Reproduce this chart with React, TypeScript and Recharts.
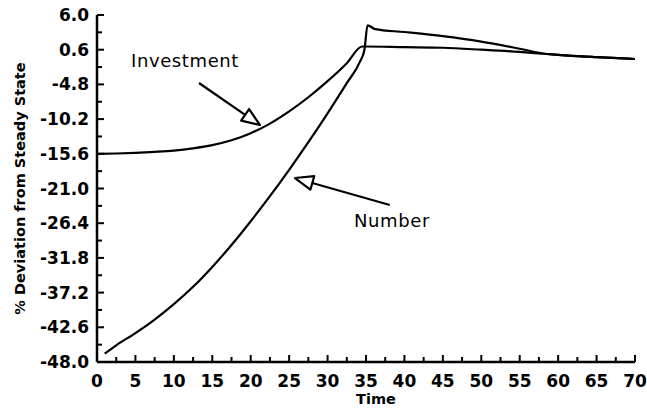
import React from 'react';
import { LineChart, Line, XAxis, YAxis, ReferenceLine, ReferenceDot, Label } from 'recharts';

// ---- data ----
const investmentTime = [0, 2.5, 5, 7.5, 10, 12.5, 15, 17.5, 20, 22.5, 25, 27.5, 30, 32.5, 34.5, 35, 40, 45, 50, 55, 58.5, 60, 65, 70];
const investmentValues = [-15.6, -15.55, -15.45, -15.3, -15.1, -14.75, -14.25, -13.5, -12.4, -10.9, -9.0, -6.8, -4.3, -1.5, 1.1, 1.1, 1.0, 0.9, 0.6, 0.25, -0.07, -0.2, -0.55, -0.85];

const numberTime = [1, 2.5, 5, 7.5, 10, 12.5, 15, 17.5, 20, 22.5, 25, 27.5, 30, 32.5, 34.2, 34.8, 35.2, 36.2, 40, 45, 50, 55, 58.5, 60, 65, 70];
const numberValues = [-46.7, -45.4, -43.5, -41.4, -39.0, -36.3, -33.2, -29.8, -26.1, -22.2, -18.1, -13.8, -9.3, -4.6, -1.3, 0.6, 4.4, 3.8, 3.35, 2.7, 1.85, 0.75, -0.07, -0.2, -0.55, -0.85];

const xMajorTicks = [0, 5, 10, 15, 20, 25, 30, 35, 40, 45, 50, 55, 60, 65, 70];
const xMinorTicks = [2.5, 7.5, 12.5, 17.5, 22.5, 27.5, 32.5, 37.5, 42.5, 47.5, 52.5, 57.5, 62.5, 67.5];
const yMajorTicks = [-48.0, -42.6, -37.2, -31.8, -26.4, -21.0, -15.6, -10.2, -4.8, 0.6, 6.0];
const yMinorTicks = [-45.3, -39.9, -34.5, -29.1, -23.7, -18.3, -12.9, -7.5, -2.1, 3.3];

const xTitle = 'Time';
const yTitle = '% Deviation from Steady State';
const investmentLabel = { text: 'Investment', t: 11.45, v: -2.09 };
const numberLabel = { text: 'Number', t: 38.38, v: -26.99 };
const investmentArrow = [{ x: 13.27, y: -4.58 }, { x: 21.2, y: -11.12 }];
const numberArrow = [{ x: 38.1, y: -23.57 }, { x: 25.76, y: -19.37 }];

const investmentData = investmentTime.map((t, i) => ({ t, v: investmentValues[i] }));
const numberData = numberTime.map((t, i) => ({ t, v: numberValues[i] }));

const FONT = '"DejaVu Sans", Verdana, sans-serif';

const XTick = (props: any) => {
  const { x, y, payload } = props;
  const major = xMajorTicks.includes(payload.value);
  return (
    <g>
      <line x1={x} x2={x} y1={y} y2={y - (major ? 7 : 5)} stroke="#000" strokeWidth={2} />
      {major && (
        <text x={x} y={y + 25} textAnchor="middle" fontFamily={FONT} fontWeight="bold" fontSize={17} fill="#000">
          {payload.value}
        </text>
      )}
    </g>
  );
};

const YTick = (props: any) => {
  const { x, y, payload } = props;
  const major = yMajorTicks.some((v) => Math.abs(v - payload.value) < 1e-6);
  return (
    <g>
      <line x1={x} x2={x + (major ? 7 : 5)} y1={y} y2={y} stroke="#000" strokeWidth={2} />
      {major && (
        <text x={x - 8} y={y + 6} textAnchor="end" fontFamily={FONT} fontWeight="bold" fontSize={17} fill="#000">
          {Number(payload.value).toFixed(1)}
        </text>
      )}
    </g>
  );
};

const ArrowShape = (props: any) => {
  const { x1, y1, x2, y2 } = props;
  if ([x1, y1, x2, y2].some((v) => typeof v !== 'number' || isNaN(v))) return <g />;
  const dx = x2 - x1;
  const dy = y2 - y1;
  const len = Math.sqrt(dx * dx + dy * dy) || 1;
  const ux = dx / len;
  const uy = dy / len;
  const L = 18;
  const W = 7;
  const bx = x2 - ux * L;
  const by = y2 - uy * L;
  const px = -uy;
  const py = ux;
  const pts = `${x2},${y2} ${bx + px * W},${by + py * W} ${bx - px * W},${by - py * W}`;
  return (
    <g>
      <line x1={x1} y1={y1} x2={bx} y2={by} stroke="#000" strokeWidth={2.2} />
      <polygon points={pts} fill="#fff" stroke="#000" strokeWidth={2.2} strokeLinejoin="round" />
    </g>
  );
};

const makeTextShape = (text: string) => (props: any) => {
  const { cx, cy } = props;
  return (
    <text x={cx} y={cy} textAnchor="middle" fontFamily={FONT} fontSize={18} letterSpacing={0.6} fill="#000">
      {text}
    </text>
  );
};

export default function App() {
  const xTicks = [...xMajorTicks, ...xMinorTicks].sort((a, b) => a - b);
  const yTicks = [...yMajorTicks, ...yMinorTicks].sort((a, b) => a - b);
  return (
    <div style={{ position: 'absolute', left: 0, top: 0, background: '#fff' }}>
      <LineChart width={647} height={410} margin={{ top: 15, right: 12, bottom: 0, left: 0 }}>
        <XAxis
          dataKey="t"
          type="number"
          domain={[0, 70]}
          ticks={xTicks}
          interval={0}
          tickLine={false}
          tickSize={0}
          tickMargin={0}
          height={48}
          axisLine={{ stroke: '#000', strokeWidth: 2.5 }}
          tick={<XTick />}
          allowDataOverflow
        >
          <Label
            content={(p: any) => {
              const vb = p.viewBox || { x: 97, y: 362, width: 538 };
              return (
                <text x={vb.x + vb.width / 2 + 10} y={vb.y + 42} textAnchor="middle" fontFamily={FONT} fontWeight="bold" fontSize={14.5} fill="#000">
                  {xTitle}
                </text>
              );
            }}
          />
        </XAxis>
        <YAxis
          type="number"
          domain={[-48, 6]}
          ticks={yTicks}
          interval={0}
          width={97}
          tickLine={false}
          tickSize={0}
          tickMargin={0}
          axisLine={{ stroke: '#000', strokeWidth: 2.5 }}
          tick={<YTick />}
          allowDataOverflow
        >
          <Label
            content={(p: any) => {
              const vb = p.viewBox || { x: 0, y: 15, height: 347 };
              const cx = vb.x + 25;
              const cy = vb.y + vb.height / 2;
              return (
                <text x={cx} y={cy} transform={`rotate(-90, ${cx}, ${cy})`} textAnchor="middle" fontFamily={FONT} fontWeight="bold" fontSize={14.5} fill="#000">
                  {yTitle}
                </text>
              );
            }}
          />
        </YAxis>
        <Line data={investmentData} dataKey="v" type="monotone" stroke="#000" strokeWidth={2.2} dot={false} isAnimationActive={false} />
        <Line data={numberData} dataKey="v" type="monotone" stroke="#000" strokeWidth={2.2} dot={false} isAnimationActive={false} />
        <ReferenceLine segment={investmentArrow} shape={ArrowShape} ifOverflow="visible" />
        <ReferenceLine segment={numberArrow} shape={ArrowShape} ifOverflow="visible" />
        <ReferenceDot x={investmentLabel.t} y={investmentLabel.v} r={0} ifOverflow="visible" shape={makeTextShape(investmentLabel.text)} />
        <ReferenceDot x={numberLabel.t} y={numberLabel.v} r={0} ifOverflow="visible" shape={makeTextShape(numberLabel.text)} />
      </LineChart>
    </div>
  );
}
